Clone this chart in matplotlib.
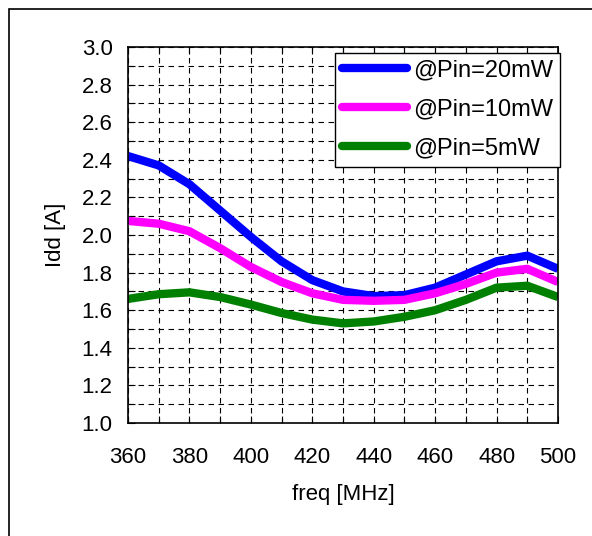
import matplotlib.pyplot as plt
from matplotlib.ticker import MultipleLocator
from matplotlib.patches import Rectangle

plt.rcParams['font.family'] = ['Liberation Sans', 'DejaVu Sans']

freq = [360, 370, 380, 390, 400, 410, 420, 430, 440, 450, 460, 470, 480, 490, 500]
idd_20mw = [2.42, 2.37, 2.27, 2.13, 1.99, 1.86, 1.76, 1.70, 1.675, 1.68, 1.72, 1.79, 1.86, 1.89, 1.82]
idd_10mw = [2.075, 2.06, 2.02, 1.93, 1.83, 1.75, 1.69, 1.655, 1.65, 1.655, 1.69, 1.74, 1.80, 1.82, 1.75]
idd_5mw = [1.66, 1.685, 1.695, 1.67, 1.63, 1.585, 1.55, 1.53, 1.54, 1.565, 1.60, 1.655, 1.72, 1.73, 1.67]
labels = ['@Pin=20mW', '@Pin=10mW', '@Pin=5mW']
colors = ['#0000ff', '#ff00ff', '#008000']

fig = plt.figure(figsize=(5.92, 5.36), dpi=100)
ax = fig.add_axes([128/592, 1-423/536, 430/592, 376/536])

# outer frame (clipped at right and bottom like the original)
fig.patches.append(Rectangle((9/592, -0.1), 1.2, 1-9/536+0.1, transform=fig.transFigure,
                             fill=False, edgecolor='black', linewidth=1.2))

for y, lab, c in zip([idd_20mw, idd_10mw, idd_5mw], labels, colors):
    ax.plot(freq, y, color=c, linewidth=6, label=lab, solid_joinstyle='round', solid_capstyle='butt')

ax.set_xlim(360, 500)
ax.set_ylim(1.0, 3.0)
ax.xaxis.set_major_locator(MultipleLocator(20))
ax.xaxis.set_minor_locator(MultipleLocator(10))
ax.yaxis.set_major_locator(MultipleLocator(0.2))
ax.yaxis.set_minor_locator(MultipleLocator(0.1))
ax.yaxis.set_major_formatter(plt.FormatStrFormatter('%.1f'))
ax.grid(True, which='both', color='black', linestyle=(0, (5, 4)), linewidth=0.8)
ax.set_axisbelow(True)
ax.tick_params(which='both', direction='in', length=5, width=0.8, top=True, right=False, labelsize=16)
ax.tick_params(axis='x', pad=17)
ax.tick_params(axis='y', pad=11)
for s in ax.spines.values():
    s.set_linewidth(1.2)

ax.set_xlabel('freq [MHz]', fontsize=16, labelpad=12)
ax.set_ylabel('Idd [A]', fontsize=16, labelpad=11)

leg = ax.legend(loc='upper right', bbox_to_anchor=(1.005, 0.985), fontsize=17, frameon=True,
                fancybox=False, edgecolor='black', framealpha=1, handlelength=2.75,
                borderpad=0.3, labelspacing=0.72, handletextpad=0.25, borderaxespad=0)
leg.get_frame().set_linewidth(1.0)
for h in leg.get_lines():
    h.set_solid_capstyle('round')

fig.savefig('out.png', dpi=100)
